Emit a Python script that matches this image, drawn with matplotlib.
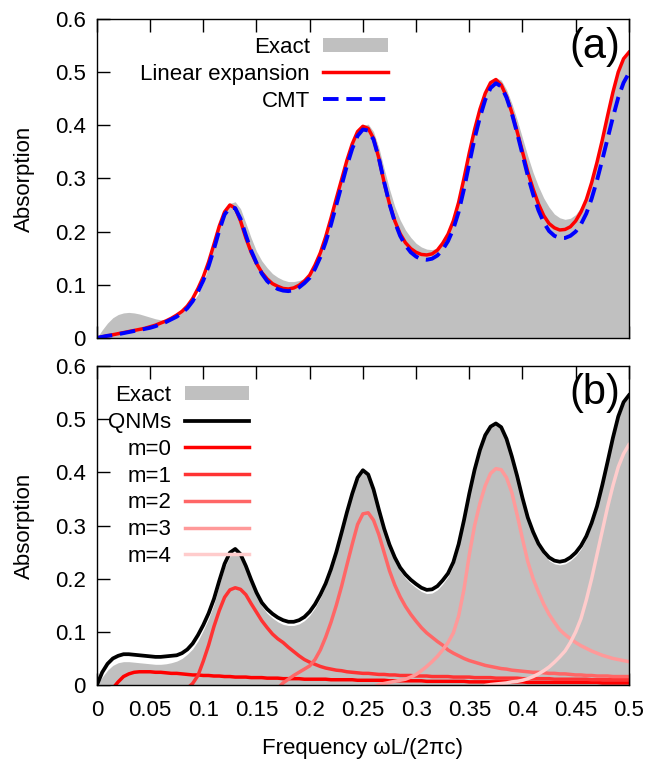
import matplotlib

matplotlib.use("Agg")

import matplotlib.pyplot as plt
import numpy as np
from matplotlib.axes import Axes
from matplotlib.lines import Line2D
from matplotlib.patches import Patch

NA = np.nan

# frequency grid, wL/(2 pi c), step 0.005
FREQ = np.linspace(0.0, 0.5, 101)

# ---- panel (a) ----
EXACT_A = [
    0, .015, .028, .038, .044, .047, .048, .047, .045, .042,
    .039, .036, .034, .035, .037, .042, .049, .058, .068, .082,
    .103, .136, .173, .210, .239, .253, .256, .243, .216, .188,
    .163, .145, .132, .121, .114, .109, .106, .106, .108, .112,
    .120, .135, .158, .188, .222, .258, .295, .331, .362, .387,
    .400, .402, .388, .358, .318, .280, .247, .222, .203, .189,
    .178, .171, .167, .166, .169, .178, .194, .218, .252, .297,
    .345, .390, .428, .458, .479, .489, .485, .467, .441, .410,
    .376, .342, .311, .285, .263, .246, .233, .226, .223, .225,
    .232, .246, .266, .293, .329, .370, .416, .460, .497, .522,
    .535,
]
LINEAR = [
    0, .002, .004, .006, .008, .010, .012, .014, .016, .018,
    .021, .024, .028, .032, .037, .043, .050, .060, .074, .093,
    .115, .143, .176, .210, .237, .250, .244, .220, .188, .161,
    .140, .123, .111, .102, .097, .093, .092, .094, .099, .107,
    .118, .137, .160, .190, .225, .262, .298, .334, .365, .388,
    .398, .394, .375, .338, .292, .252, .220, .196, .179, .168,
    .161, .157, .156, .158, .165, .178, .195, .220, .255, .300,
    .348, .392, .430, .460, .480, .486, .476, .454, .424, .388,
    .350, .312, .280, .252, .230, .215, .207, .203, .204, .209,
    .220, .237, .260, .292, .330, .372, .418, .462, .500, .525,
    .537,
]
CMT = [
    0, .002, .004, .005, .007, .009, .011, .013, .015, .017,
    .019, .022, .026, .030, .035, .040, .047, .056, .069, .087,
    .108, .135, .167, .202, .232, .245, .244, .224, .193, .164,
    .141, .121, .107, .098, .092, .089, .088, .090, .095, .103,
    .113, .130, .152, .180, .213, .250, .287, .324, .356, .380,
    .392, .390, .373, .338, .293, .252, .218, .192, .174, .161,
    .153, .148, .147, .149, .155, .166, .182, .205, .237, .280,
    .328, .375, .415, .448, .470, .479, .473, .452, .422, .385,
    .345, .305, .270, .240, .217, .201, .192, .188, .188, .192,
    .200, .214, .234, .262, .296, .335, .375, .415, .452, .480,
    .498,
]

# ---- panel (b) ----
EXACT_B = [
    0, .015, .028, .037, .042, .044, .044, .043, .042, .041,
    .040, .039, .039, .040, .042, .045, .050, .058, .068, .083,
    .103, .125, .152, .188, .221, .242, .250, .240, .217, .191,
    .167, .148, .135, .126, .119, .114, .112, .112, .115, .121,
    .131, .145, .164, .186, .213, .246, .283, .321, .356, .386,
    .400, .393, .364, .326, .289, .258, .233, .214, .201, .191,
    .183, .176, .172, .173, .179, .190, .204, .225, .259, .304,
    .355, .400, .438, .467, .483, .489, .482, .459, .425, .387,
    .346, .309, .282, .260, .245, .234, .228, .226, .228, .234,
    .243, .256, .275, .300, .331, .371, .415, .460, .500, .528,
    .542,
]
QNMS = [
    0, .024, .040, .050, .055, .058, .058, .057, .056, .055,
    .054, .053, .053, .054, .055, .056, .060, .067, .078, .094,
    .113, .135, .162, .196, .228, .249, .256, .246, .224, .198,
    .174, .155, .143, .134, .127, .122, .119, .119, .122, .128,
    .138, .152, .170, .191, .218, .250, .287, .325, .360, .390,
    .404, .396, .368, .330, .294, .264, .240, .221, .208, .198,
    .190, .183, .179, .180, .186, .197, .210, .231, .265, .310,
    .360, .405, .442, .470, .486, .492, .485, .463, .430, .393,
    .352, .315, .288, .266, .251, .240, .234, .232, .234, .240,
    .249, .262, .280, .305, .336, .376, .420, .465, .505, .532,
    .545,
]
MODE_0 = [
    -.06, -.04, -.022, -.006, .006, .016, .021, .024, .025, .025,
    .025, .024, .024, .023, .022, .022, .021, .020, .019, .019,
    .018, .018, .017, .017, .016, .016, .015, .015, .015, .014,
    .014, .014, .013, .013, .013, .012, .012, .012, .012, .011,
    .011, .011, .011, .011, .010, .010, .010, .010, .010, .009,
    .009, .009, .009, .009, .009, .008, .008, .008, .008, .008,
    .008, .008, .007, .007, .007, .007, .007, .007, .007, .007,
    .006, .006, .006, .006, .006, .006, .006, .006, .006, .006,
    .006, .005, .005, .005, .005, .005, .005, .005, .005, .005,
    .005, .005, .005, .005, .005, .004, .004, .004, .004, .004,
    .004,
]
MODE_1 = [
    NA, NA, NA, NA, NA, NA, NA, NA, NA, NA,
    NA, NA, NA, NA, NA, NA, -.02, -.006, .003, .018,
    .045, .075, .110, .140, .165, .179, .183, .180, .170, .153,
    .137, .121, .108, .096, .087, .080, .071, .063, .055, .048,
    .043, .039, .035, .032, .030, .028, .027, .025, .024, .023,
    .022, .022, .021, .020, .020, .019, .019, .018, .018, .018,
    .017, .017, .017, .016, .016, .016, .016, .015, .015, .015,
    .015, .014, .014, .014, .014, .013, .013, .013, .013, .013,
    .012, .012, .012, .012, .012, .012, .011, .011, .011, .011,
    .011, .011, .011, .010, .010, .010, .010, .010, .010, .010,
    .010,
]
MODE_2 = [
    NA, NA, NA, NA, NA, NA, NA, NA, NA, NA,
    NA, NA, NA, NA, NA, NA, NA, NA, NA, NA,
    NA, NA, NA, NA, NA, NA, NA, NA, NA, NA,
    NA, NA, NA, -.02, -.006, .004, .011, .018, .024, .030,
    .036, .048, .066, .090, .118, .150, .186, .226, .265, .302,
    .322, .324, .310, .283, .249, .215, .188, .166, .148, .133,
    .120, .108, .098, .090, .082, .075, .066, .060, .055, .050,
    .046, .043, .040, .037, .035, .033, .031, .030, .028, .027,
    .026, .025, .024, .024, .023, .022, .022, .021, .021, .020,
    .019, .019, .018, .018, .017, .017, .017, .016, .016, .016,
    .016,
]
MODE_3 = [
    NA, NA, NA, NA, NA, NA, NA, NA, NA, NA,
    NA, NA, NA, NA, NA, NA, NA, NA, NA, NA,
    NA, NA, NA, NA, NA, NA, NA, NA, NA, NA,
    NA, NA, NA, NA, NA, NA, NA, NA, NA, NA,
    NA, NA, NA, NA, NA, NA, NA, NA, NA, NA,
    NA, -.02, -.004, .001, .003, .005, .007, .009, .011, .015,
    .020, .027, .035, .044, .054, .066, .080, .098, .130, .180,
    .245, .300, .342, .375, .398, .407, .405, .390, .362, .320,
    .275, .232, .200, .175, .152, .133, .118, .104, .095, .087,
    .080, .074, .069, .064, .060, .056, .053, .050, .048, .046,
    .044,
]
MODE_4 = [
    NA, NA, NA, NA, NA, NA, NA, NA, NA, NA,
    NA, NA, NA, NA, NA, NA, NA, NA, NA, NA,
    NA, NA, NA, NA, NA, NA, NA, NA, NA, NA,
    NA, NA, NA, NA, NA, NA, NA, NA, NA, NA,
    NA, NA, NA, NA, NA, NA, NA, NA, NA, NA,
    NA, NA, NA, NA, NA, NA, NA, NA, NA, NA,
    NA, NA, NA, NA, NA, NA, NA, NA, NA, NA,
    NA, NA, -.01, -.001, .001, .002, .003, .004, .006, .007,
    .009, .012, .016, .021, .027, .034, .043, .053, .064, .080,
    .100, .125, .160, .200, .245, .290, .335, .375, .410, .435,
    .452,
]
MODES = [MODE_0, MODE_1, MODE_2, MODE_3, MODE_4]
MODE_LABELS = ["m=0", "m=1", "m=2", "m=3", "m=4"]
MODE_COLORS = ["#ff0000", "#ff3333", "#ff6666", "#ff9999", "#ffcccc"]

XTICKS = [0, 0.05, 0.1, 0.15, 0.2, 0.25, 0.3, 0.35, 0.4, 0.45, 0.5]
XTICK_LABELS = ["0", "0.05", "0.1", "0.15", "0.2", "0.25", "0.3", "0.35", "0.4", "0.45", "0.5"]
YTICKS = [0, 0.1, 0.2, 0.3, 0.4, 0.5, 0.6]
YTICK_LABELS = ["0", "0.1", "0.2", "0.3", "0.4", "0.5", "0.6"]

GRAY = "#c0c0c0"
FONT_SIZE = 16
LINE_W = 2.5
DASH = (0, (4, 2))


def styleAxes(ax: Axes, showXLabels: bool) -> None:
    """Gnuplot-like frame: inward ticks on left/bottom/top, none on the right."""
    ax.set_xlim(0, 0.5)
    ax.set_ylim(0, 0.6)
    ax.set_xticks(XTICKS)
    ax.set_yticks(YTICKS)
    ax.set_yticklabels(YTICK_LABELS)
    if showXLabels:
        ax.set_xticklabels(XTICK_LABELS)
    else:
        ax.set_xticklabels([])
    ax.tick_params(direction="in", length=9, width=1, top=True, right=False,
                   labelsize=FONT_SIZE)
    ax.tick_params(axis="y", pad=8)
    ax.tick_params(axis="x", pad=11)
    ax.set_axisbelow(True)
    for spine in ax.spines.values():
        spine.set_linewidth(1.0)
        spine.set_zorder(5)
    ax.set_ylabel("Absorption", fontsize=FONT_SIZE, labelpad=14)


def addLegend(ax: Axes, handles: list, labels: list, anchor: tuple) -> None:
    ax.legend(handles, labels, loc="upper right", bbox_to_anchor=anchor,
              frameon=False, markerfirst=False, fontsize=FONT_SIZE,
              handlelength=2.9, handletextpad=0.6, labelspacing=0.26,
              handleheight=0.6, borderpad=0, borderaxespad=0)


def plotTop(ax: Axes) -> None:
    ax.fill_between(FREQ, 0, EXACT_A, color=GRAY, lw=0, zorder=1)
    ax.plot(FREQ, LINEAR, color="#ff0000", lw=LINE_W, zorder=3,
            solid_joinstyle="round")
    ax.plot(FREQ, CMT, color="#0000ff", lw=2.8, ls=DASH, zorder=4,
            dash_joinstyle="round")
    styleAxes(ax, showXLabels=False)

    handles = [
        Patch(facecolor=GRAY, edgecolor="none"),
        Line2D([], [], color="#ff0000", lw=LINE_W),
        Line2D([], [], color="#0000ff", lw=2.8, ls=DASH),
    ]
    addLegend(ax, handles, ["Exact", "Linear expansion", "CMT"], (0.547, 0.943))
    ax.text(0.983, 0.912, "(a)", transform=ax.transAxes, ha="right",
            va="center", fontsize=30)


def plotBottom(ax: Axes) -> None:
    ax.fill_between(FREQ, 0, EXACT_B, color=GRAY, lw=0, zorder=1)
    for values, color in zip(MODES, MODE_COLORS):
        ax.plot(FREQ, values, color=color, lw=LINE_W, zorder=3,
                solid_joinstyle="round")
    ax.plot(FREQ, QNMS, color="black", lw=2.7, zorder=4, solid_joinstyle="round")
    styleAxes(ax, showXLabels=True)
    ax.set_xlabel("Frequency ωL/(2πc)", fontsize=FONT_SIZE, labelpad=12)

    handles = [Patch(facecolor=GRAY, edgecolor="none"),
               Line2D([], [], color="black", lw=2.7)]
    handles += [Line2D([], [], color=c, lw=LINE_W) for c in MODE_COLORS]
    addLegend(ax, handles, ["Exact", "QNMs"] + MODE_LABELS, (0.286, 0.940))
    ax.text(0.983, 0.915, "(b)", transform=ax.transAxes, ha="right",
            va="center", fontsize=30)


def main() -> None:
    plt.rcParams["font.family"] = ["Liberation Sans", "DejaVu Sans"]
    fig = plt.figure(figsize=(6.46, 7.68), dpi=100)
    axTop = fig.add_axes([0.150, 0.560, 0.8235, 0.4154])
    axBottom = fig.add_axes([0.150, 0.108, 0.8235, 0.4154])
    plotTop(axTop)
    plotBottom(axBottom)
    fig.savefig("out.png", dpi=100)


if __name__ == "__main__":
    main()
